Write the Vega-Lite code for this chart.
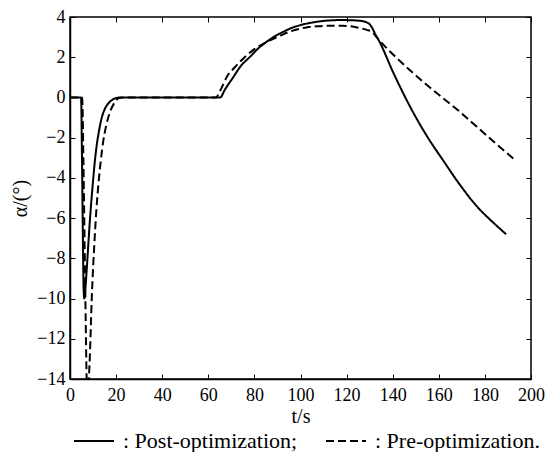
{
  "$schema": "https://vega.github.io/schema/vega-lite/v6.json",
  "width": 461,
  "height": 362,
  "autosize": {"type": "none"},
  "padding": {"left": 70, "top": 17, "right": 27, "bottom": 73},
  "background": "white",
  "config": {
    "view": {"stroke": "black", "strokeWidth": 1.5},
    "font": "Liberation Serif",
    "axis": {
      "grid": false,
      "labelFont": "Liberation Serif",
      "labelFontSize": 18,
      "labelColor": "black",
      "domainColor": "black",
      "domainWidth": 1.5,
      "tickColor": "black",
      "tickSize": -5,
      "titleFont": "Liberation Serif",
      "titleFontWeight": "normal",
      "titleColor": "black",
      "titleFontSize": 20
    },
    "legend": {
      "labelFont": "Liberation Serif",
      "labelFontSize": 22,
      "labelColor": "black",
      "labelLimit": 0,
      "padding": 0
    }
  },
  "data": {
    "values": [
      {"t": 0, "a": 0, "s": "Post-optimization"},
      {"t": 4.8, "a": 0, "s": "Post-optimization"},
      {"t": 5.2, "a": -3, "s": "Post-optimization"},
      {"t": 5.6, "a": -7, "s": "Post-optimization"},
      {"t": 5.9, "a": -9.5, "s": "Post-optimization"},
      {"t": 6.2, "a": -10.0, "s": "Post-optimization"},
      {"t": 6.6, "a": -9.6, "s": "Post-optimization"},
      {"t": 7.2, "a": -8.65, "s": "Post-optimization"},
      {"t": 8.0, "a": -7.2, "s": "Post-optimization"},
      {"t": 8.7, "a": -6.0, "s": "Post-optimization"},
      {"t": 9.4, "a": -4.95, "s": "Post-optimization"},
      {"t": 10.1, "a": -4.02, "s": "Post-optimization"},
      {"t": 10.8, "a": -3.15, "s": "Post-optimization"},
      {"t": 11.6, "a": -2.37, "s": "Post-optimization"},
      {"t": 12.6, "a": -1.65, "s": "Post-optimization"},
      {"t": 13.7, "a": -1.04, "s": "Post-optimization"},
      {"t": 15.0, "a": -0.6, "s": "Post-optimization"},
      {"t": 16.6, "a": -0.3, "s": "Post-optimization"},
      {"t": 18.3, "a": -0.12, "s": "Post-optimization"},
      {"t": 20.3, "a": -0.02, "s": "Post-optimization"},
      {"t": 22, "a": 0, "s": "Post-optimization"},
      {"t": 40, "a": 0, "s": "Post-optimization"},
      {"t": 65.2, "a": 0, "s": "Post-optimization"},
      {"t": 67, "a": 0.35, "s": "Post-optimization"},
      {"t": 70.9, "a": 1.02, "s": "Post-optimization"},
      {"t": 74, "a": 1.55, "s": "Post-optimization"},
      {"t": 78.1, "a": 2.02, "s": "Post-optimization"},
      {"t": 81.5, "a": 2.42, "s": "Post-optimization"},
      {"t": 85.3, "a": 2.77, "s": "Post-optimization"},
      {"t": 89, "a": 3.05, "s": "Post-optimization"},
      {"t": 92.5, "a": 3.26, "s": "Post-optimization"},
      {"t": 96, "a": 3.45, "s": "Post-optimization"},
      {"t": 99.8, "a": 3.59, "s": "Post-optimization"},
      {"t": 103, "a": 3.68, "s": "Post-optimization"},
      {"t": 107, "a": 3.76, "s": "Post-optimization"},
      {"t": 110.5, "a": 3.81, "s": "Post-optimization"},
      {"t": 114.2, "a": 3.84, "s": "Post-optimization"},
      {"t": 118, "a": 3.85, "s": "Post-optimization"},
      {"t": 121.5, "a": 3.84, "s": "Post-optimization"},
      {"t": 125, "a": 3.82, "s": "Post-optimization"},
      {"t": 127.5, "a": 3.78, "s": "Post-optimization"},
      {"t": 128.7, "a": 3.73, "s": "Post-optimization"},
      {"t": 130, "a": 3.64, "s": "Post-optimization"},
      {"t": 131, "a": 3.48, "s": "Post-optimization"},
      {"t": 132.3, "a": 3.18, "s": "Post-optimization"},
      {"t": 134.5, "a": 2.72, "s": "Post-optimization"},
      {"t": 140, "a": 1.3, "s": "Post-optimization"},
      {"t": 147.5, "a": -0.45, "s": "Post-optimization"},
      {"t": 155, "a": -1.95, "s": "Post-optimization"},
      {"t": 162, "a": -3.15, "s": "Post-optimization"},
      {"t": 169.2, "a": -4.35, "s": "Post-optimization"},
      {"t": 176.4, "a": -5.4, "s": "Post-optimization"},
      {"t": 183.6, "a": -6.22, "s": "Post-optimization"},
      {"t": 189.2, "a": -6.8, "s": "Post-optimization"},
      {"t": 0, "a": 0, "s": "Pre-optimization"},
      {"t": 5.3, "a": 0, "s": "Pre-optimization"},
      {"t": 5.8, "a": -3, "s": "Pre-optimization"},
      {"t": 6.3, "a": -7, "s": "Pre-optimization"},
      {"t": 6.8, "a": -11, "s": "Pre-optimization"},
      {"t": 7.2, "a": -13.9, "s": "Pre-optimization"},
      {"t": 7.6, "a": -15.2, "s": "Pre-optimization"},
      {"t": 8.1, "a": -14.2, "s": "Pre-optimization"},
      {"t": 8.7, "a": -12.6, "s": "Pre-optimization"},
      {"t": 9.4, "a": -10.1, "s": "Pre-optimization"},
      {"t": 10.1, "a": -8.3, "s": "Pre-optimization"},
      {"t": 10.8, "a": -6.8, "s": "Pre-optimization"},
      {"t": 11.5, "a": -5.5, "s": "Pre-optimization"},
      {"t": 12.3, "a": -4.35, "s": "Pre-optimization"},
      {"t": 13.3, "a": -3.2, "s": "Pre-optimization"},
      {"t": 14.4, "a": -2.2, "s": "Pre-optimization"},
      {"t": 15.8, "a": -1.35, "s": "Pre-optimization"},
      {"t": 17.4, "a": -0.71, "s": "Pre-optimization"},
      {"t": 19.2, "a": -0.28, "s": "Pre-optimization"},
      {"t": 21, "a": -0.05, "s": "Pre-optimization"},
      {"t": 23, "a": 0, "s": "Pre-optimization"},
      {"t": 63.3, "a": 0, "s": "Pre-optimization"},
      {"t": 65, "a": 0.3, "s": "Pre-optimization"},
      {"t": 68, "a": 1.02, "s": "Pre-optimization"},
      {"t": 71.5, "a": 1.5, "s": "Pre-optimization"},
      {"t": 75.2, "a": 1.94, "s": "Pre-optimization"},
      {"t": 80, "a": 2.4, "s": "Pre-optimization"},
      {"t": 85.3, "a": 2.75, "s": "Pre-optimization"},
      {"t": 89, "a": 2.95, "s": "Pre-optimization"},
      {"t": 92.5, "a": 3.14, "s": "Pre-optimization"},
      {"t": 96, "a": 3.3, "s": "Pre-optimization"},
      {"t": 99.8, "a": 3.42, "s": "Pre-optimization"},
      {"t": 103, "a": 3.49, "s": "Pre-optimization"},
      {"t": 107, "a": 3.54, "s": "Pre-optimization"},
      {"t": 110.5, "a": 3.56, "s": "Pre-optimization"},
      {"t": 114.2, "a": 3.56, "s": "Pre-optimization"},
      {"t": 118, "a": 3.56, "s": "Pre-optimization"},
      {"t": 121.5, "a": 3.54, "s": "Pre-optimization"},
      {"t": 125, "a": 3.47, "s": "Pre-optimization"},
      {"t": 128.7, "a": 3.36, "s": "Pre-optimization"},
      {"t": 131, "a": 3.26, "s": "Pre-optimization"},
      {"t": 133, "a": 3.0, "s": "Pre-optimization"},
      {"t": 137.4, "a": 2.45, "s": "Pre-optimization"},
      {"t": 142, "a": 1.93, "s": "Pre-optimization"},
      {"t": 147.5, "a": 1.35, "s": "Pre-optimization"},
      {"t": 154.7, "a": 0.63, "s": "Pre-optimization"},
      {"t": 162, "a": -0.05, "s": "Pre-optimization"},
      {"t": 169.2, "a": -0.72, "s": "Pre-optimization"},
      {"t": 176.4, "a": -1.45, "s": "Pre-optimization"},
      {"t": 183.6, "a": -2.18, "s": "Pre-optimization"},
      {"t": 192.8, "a": -3.08, "s": "Pre-optimization"}
    ]
  },
  "layer": [
    {
      "mark": {"type": "line", "color": "black", "strokeWidth": 2, "clip": true, "interpolate": "monotone"},
      "encoding": {
        "x": {
          "field": "t", "type": "quantitative",
          "scale": {"domain": [0, 200], "nice": false},
          "axis": {"values": [0, 20, 40, 60, 80, 100, 120, 140, 160, 180, 200], "labelPadding": 12, "title": "t/s", "titlePadding": 2, "labelFlush": false}
        },
        "y": {
          "field": "a", "type": "quantitative",
          "scale": {"domain": [-14, 4], "nice": false, "zero": false},
          "axis": {"values": [-14, -12, -10, -8, -6, -4, -2, 0, 2, 4], "labelPadding": 10, "title": "α/(°)", "titlePadding": 6, "labelFlush": false}
        },
        "strokeDash": {
          "field": "s", "type": "nominal",
          "scale": {"domain": ["Post-optimization", "Pre-optimization"], "range": [[1, 0], [8, 4]]},
          "legend": {
            "orient": "none",
            "legendX": 3,
            "legendY": 403,
            "direction": "horizontal",
            "title": null,
            "symbolType": "stroke",
            "symbolStrokeColor": "black",
            "symbolStrokeWidth": 2,
            "symbolSize": 1600,
            "labelOffset": 8,
            "columnPadding": 24,
            "labelExpr": "datum.label == 'Post-optimization' ? ': Post-optimization;' : ': Pre-optimization.'"
          }
        }
      }
    },
    {
      "mark": {"type": "point", "opacity": 0},
      "encoding": {
        "x": {"field": "t", "type": "quantitative", "axis": {"orient": "top", "values": [0, 20, 40, 60, 80, 100, 120, 140, 160, 180, 200], "labels": false, "title": null, "domain": false}},
        "y": {"field": "a", "type": "quantitative", "axis": {"orient": "right", "values": [-14, -12, -10, -8, -6, -4, -2, 0, 2, 4], "labels": false, "title": null, "domain": false}}
      }
    }
  ],
  "resolve": {"axis": {"x": "independent", "y": "independent"}}
}
